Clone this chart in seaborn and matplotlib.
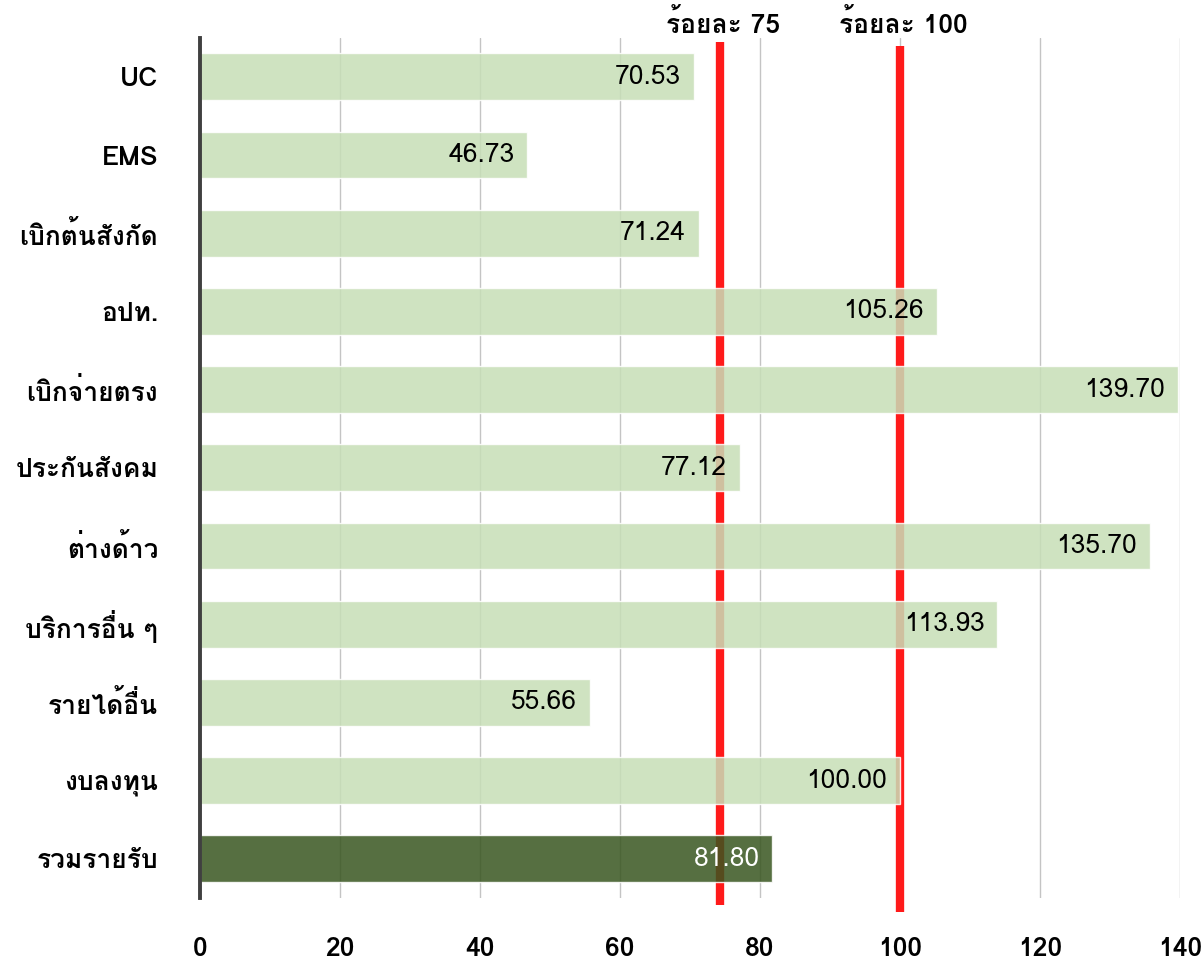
import matplotlib
matplotlib.use("Agg")
import matplotlib.pyplot as plt
from matplotlib import font_manager
from matplotlib.ft2font import FT2Font
import seaborn as sns
import pandas as pd

categories = ["UC", "EMS", "เบิกต้นสังกัด", "อปท.", "เบิกจ่ายตรง", "ประกันสังคม",
              "ต่างด้าว", "บริการอื่น ๆ", "รายได้อื่น", "งบลงทุน", "รวมรายรับ"]
values = [70.53, 46.73, 71.24, 105.26, 139.70, 77.12, 135.70, 113.93, 55.66, 100.00, 81.80]
bar_colors = ["#c7deb7"] * 10 + ["#38561f"]
label_colors = ["black"] * 10 + ["white"]
ref_lines = [74.3, 100.0]
ref_labels = ["ร้อยละ 75", "ร้อยละ 100"]
x_ticks = [0, 20, 40, 60, 80, 100, 120, 140]


def thai_family():
    # pick an installed font that actually has Thai glyphs
    for f in font_manager.fontManager.ttflist:
        try:
            if 0x0E01 in FT2Font(f.fname).get_charmap():
                return f.name
        except Exception:
            pass
    return "DejaVu Sans"


sns.set_style("white")
fam = thai_family()
plt.rcParams["font.family"] = [fam, "DejaVu Sans"]
plt.rcParams["text.color"] = "black"
plt.rcParams["xtick.color"] = "black"
plt.rcParams["ytick.color"] = "black"

df = pd.DataFrame({"cat": categories, "val": values})

fig = plt.figure(figsize=(12.04, 9.67), dpi=100)
ax = fig.add_axes([0.166, 0.0714, 0.814, 0.8896])

for x, ymin, ymax in zip(ref_lines, [-0.008, -0.016], [0.995, 0.99]):
    ax.axvline(x, ymin=ymin, ymax=ymax, color="#ff1a1a", lw=6, clip_on=False,
               zorder=1, solid_capstyle="butt")

sns.barplot(data=df, y="cat", x="val", hue="cat", palette=bar_colors, legend=False,
            width=0.6, alpha=0.85, ax=ax, zorder=2, saturation=1)

for i, (v, c) in enumerate(zip(values, label_colors)):
    ax.annotate(f"{v:.2f}", xy=(v, i), xytext=(-9, 0), textcoords="offset points",
                ha="right", va="center", fontsize=19, color=c, zorder=3)

for x, t in zip(ref_lines, ref_labels):
    ax.text(x + 0.5, 1.016, t, transform=ax.get_xaxis_transform(), ha="center",
            va="center", fontsize=19, fontweight="bold")

ax.set_xlim(0, 140)
ax.set_ylim(10.5, -0.5)
ax.set_xticks(x_ticks)
ax.xaxis.grid(True, color="#c4c4c4", lw=1)
ax.set_axisbelow(True)
ax.set_xlabel("")
ax.set_ylabel("")
ax.tick_params(axis="x", length=0, pad=28, labelsize=19)
ax.tick_params(axis="y", length=0, pad=30, labelsize=19)
for lab in ax.get_xticklabels() + ax.get_yticklabels():
    lab.set_fontweight("bold")

for s in ["top", "right", "bottom"]:
    ax.spines[s].set_visible(False)
ax.spines["left"].set_color("#404040")
ax.spines["left"].set_linewidth(2.8)
ax.spines["left"].set_zorder(4)

fig.savefig("out.png", dpi=100)
